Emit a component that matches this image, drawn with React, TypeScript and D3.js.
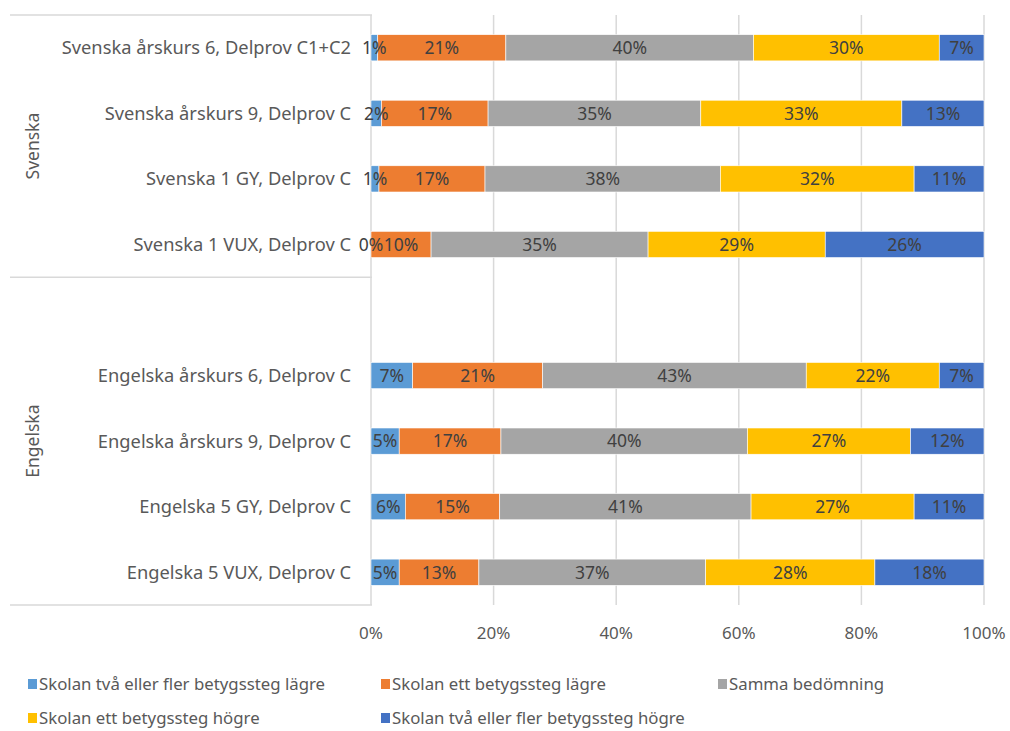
import React from "react";
import * as d3 from "d3";

// kategorier (tom rad mellan grupperna)
const categories = [
  "Svenska årskurs 6, Delprov C1+C2",
  "Svenska årskurs 9, Delprov C",
  "Svenska 1 GY, Delprov C",
  "Svenska 1 VUX, Delprov C",
  "",
  "Engelska årskurs 6, Delprov C",
  "Engelska årskurs 9, Delprov C",
  "Engelska 5 GY, Delprov C",
  "Engelska 5 VUX, Delprov C",
];
const groupNames = ["Svenska", "Engelska"];
const groupSizes = [4, 5];

const seriesNames = [
  "Skolan två eller fler betygssteg lägre",
  "Skolan ett betygssteg lägre",
  "Samma bedömning",
  "Skolan ett betygssteg högre",
  "Skolan två eller fler betygssteg högre",
];

const tvaLagre = [1.1, 1.7, 1.3, 0, null, 6.8, 4.6, 5.6, 4.6];
const ettLagre = [20.9, 17.4, 17.3, 9.8, null, 21.2, 16.6, 15.4, 13.0];
const samma = [40.4, 34.7, 38.4, 35.4, null, 43.0, 40.2, 41.0, 37.0];
const ettHogre = [30.3, 32.8, 31.6, 28.9, null, 21.7, 26.6, 26.6, 27.6];
const tvaHogre = [7.3, 13.4, 11.4, 25.9, null, 7.3, 12.0, 11.4, 17.8];

const xTicks = [0, 20, 40, 60, 80, 100];

const colors = ["#5B9BD5", "#ED7D31", "#A5A5A5", "#FFC000", "#4472C4"];

const W = 1010;
const H = 731;
const font = "'Noto Sans', sans-serif";

export default function App() {
  const series = [tvaLagre, ettLagre, samma, ettHogre, tvaHogre];
  const x = d3.scaleLinear().domain([0, 100]).range([371, 984]);
  const y = d3
    .scaleBand<string>()
    .domain(categories.map((_, i) => String(i)))
    .range([15, 605])
    .paddingInner(0.6)
    .paddingOuter(0.3);

  const rows = categories.map((c, i) => {
    const vals = series.map((s) => s[i]);
    if (vals.some((v) => v === null)) return null;
    const stack: { x0: number; x1: number; v: number; k: number }[] = [];
    let acc = 0;
    vals.forEach((v, k) => {
      stack.push({ x0: acc, x1: acc + (v as number), v: v as number, k });
      acc += v as number;
    });
    return stack;
  });

  // gruppgränser
  const step = y.step();
  const bounds: number[] = [15];
  let n = 0;
  groupSizes.forEach((s) => {
    n += s;
    bounds.push(15 + step * n);
  });

  return (
    <svg width={W} height={H} style={{ position: "absolute", left: 0, top: 0, background: "#fff" }}>
      {/* rutnät */}
      {xTicks.map((t) => (
        <line key={t} x1={x(t)} x2={x(t)} y1={15} y2={605} stroke="#D9D9D9" strokeWidth={1.5} />
      ))}
      {/* grupplinjer */}
      {bounds.map((b, i) => (
        <line key={i} x1={10} x2={372} y1={b} y2={b} stroke="#D9D9D9" strokeWidth={1.5} />
      ))}
      {/* staplar */}
      {rows.map((r, i) =>
        r
          ? r.map((seg) => (
              <rect
                key={i + "-" + seg.k}
                x={x(seg.x0)}
                y={y(String(i))}
                width={x(seg.x1) - x(seg.x0)}
                height={y.bandwidth()}
                fill={colors[seg.k]}
                stroke="#fff"
                strokeWidth={0.6}
              />
            ))
          : null
      )}
      {/* datatiketter */}
      {rows.map((r, i) =>
        r
          ? r.map((seg) => (
              <text
                key={"l" + i + "-" + seg.k}
                x={x((seg.x0 + seg.x1) / 2)}
                y={(y(String(i)) as number) + y.bandwidth() / 2}
                dy="0.36em"
                textAnchor="middle"
                fontFamily={font}
                fontSize={17.5}
                fill="#404040"
              >
                {Math.round(seg.v)}%
              </text>
            ))
          : null
      )}
      {/* kategorietiketter */}
      {categories.map((c, i) => (
        <text
          key={"c" + i}
          x={351}
          y={(y(String(i)) as number) + y.bandwidth() / 2}
          dy="0.36em"
          textAnchor="end"
          fontFamily={font}
          fontSize={18.3}
          fill="#595959"
        >
          {c}
        </text>
      ))}
      {/* gruppetiketter */}
      {groupNames.map((g, i) => {
        const cy = (bounds[i] + bounds[i + 1]) / 2;
        return (
          <text
            key={g}
            transform={`translate(33,${cy}) rotate(-90)`}
            dy="0.36em"
            textAnchor="middle"
            fontFamily={font}
            fontSize={17.5}
            fill="#595959"
          >
            {g}
          </text>
        );
      })}
      {/* x-axel */}
      {xTicks.map((t) => (
        <text
          key={"t" + t}
          x={x(t)}
          y={633}
          dy="0.36em"
          textAnchor="middle"
          fontFamily={font}
          fontSize={17}
          fill="#595959"
        >
          {t}%
        </text>
      ))}
      {/* förklaring */}
      {seriesNames.map((s, i) => {
        const col = i % 3;
        const row = Math.floor(i / 3);
        const lx = [28, 381, 718][col];
        const ly = 684 + row * 34;
        return (
          <g key={s} transform={`translate(${lx},${ly})`}>
            <rect x={0} y={-5} width={9} height={10} fill={colors[i]} />
            <text x={11} dy="0.36em" fontFamily={font} fontSize={16.8} fill="#595959">
              {s}
            </text>
          </g>
        );
      })}
    </svg>
  );
}
